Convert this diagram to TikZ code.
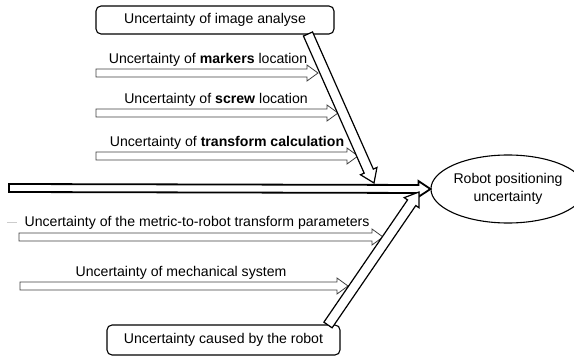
\documentclass[tikz,border=0pt]{standalone}
\usepackage{fontspec}
\setmainfont{Liberation Sans}
\usetikzlibrary{calc,shapes.geometric}
\newcommand{\harrow}[6][]{%
  \coordinate (hC) at ($(#3)!#6!(#2)$);
  \draw[#1] ($(#2)!#4!90:(#3)$) -- ($(hC)!#4!90:(#3)$) -- ($(hC)!#5!90:(#3)$) -- (#3)
    -- ($(hC)!#5!-90:(#3)$) -- ($(hC)!#4!-90:(#3)$) -- ($(#2)!#4!-90:(#3)$) -- cycle;}
\tikzset{
  txt/.style={font=\fontsize{14.1}{17}\selectfont, inner sep=0pt, anchor=center},
  causebox/.style={draw, line width=1.1pt, rounded corners=5pt, txt, minimum width=#1},
  rib/.style={draw=black!75, line width=0.8pt, fill=white},
  diag/.style={draw=black, line width=1.2pt, fill=white},
  spine/.style={draw=black, line width=1.8pt, fill=white},
}
\begin{document}
\begin{tikzpicture}[x=1pt,y=-1pt]
\useasboundingbox (0,0) rectangle (574,361);
% effect
\node[ellipse, draw, line width=1.1pt, minimum width=130pt, minimum height=68pt, inner sep=0pt, txt, align=center] (eff) at (508,189) {Robot positioning\\[1pt]uncertainty};
% main cause boxes
\node[causebox=238pt, minimum height=28pt] (img) at (215,20) {Uncertainty of image analyse};
\node[causebox=233pt, minimum height=30pt] (rob) at (223.5,340) {Uncertainty caused by the robot};
% coordinates
\coordinate (sp0) at (9,188);
\coordinate (sp1) at (eff.west);
\coordinate (d1a) at (308,34);
\coordinate (d1b) at (374,183);
\coordinate (d2a) at (328,325);
\coordinate (d2b) at (419,192);
\coordinate (r1a) at (96,73);   \coordinate (r1b) at (318,73);
\coordinate (r2a) at (96,113);  \coordinate (r2b) at (338,113);
\coordinate (r3a) at (96,156);  \coordinate (r3b) at (358,156);
\coordinate (r4a) at (19,237);  \coordinate (r4b) at (383,237);
\coordinate (r5a) at (20,286);  \coordinate (r5b) at (348,286);
% ribs
\harrow[rib]{r1a}{r1b}{4pt}{8pt}{11pt}
\harrow[rib]{r2a}{r2b}{4pt}{8pt}{11pt}
\harrow[rib]{r3a}{r3b}{4pt}{8pt}{11pt}
\harrow[rib]{r4a}{r4b}{4pt}{8pt}{11pt}
\harrow[rib]{r5a}{r5b}{4pt}{8pt}{11pt}
% spine
\harrow[spine]{sp0}{sp1}{4pt}{8pt}{12pt}
% diagonals
\harrow[diag]{d1a}{d1b}{5pt}{9pt}{13pt}
\harrow[diag]{d2a}{d2b}{5pt}{9pt}{13pt}
% rib labels
\node[txt] (t1) at (208,60) {Uncertainty of \textbf{markers} location};
\node[txt] (t2) at (216,100) {Uncertainty of \textbf{screw} location};
\node[txt] (t3) at (227,143) {Uncertainty of \textbf{transform calculation}};
\node[txt] (t4) at (197,223) {Uncertainty of the metric-to-robot transform parameters};
\node[txt] (t5) at (181,273) {Uncertainty of mechanical system};
% faint stray dash
\coordinate (g1) at (7,222); \coordinate (g2) at (17,222);
\draw[black!20, line width=0.6pt] (g1) -- (g2);
\end{tikzpicture}
\end{document}
